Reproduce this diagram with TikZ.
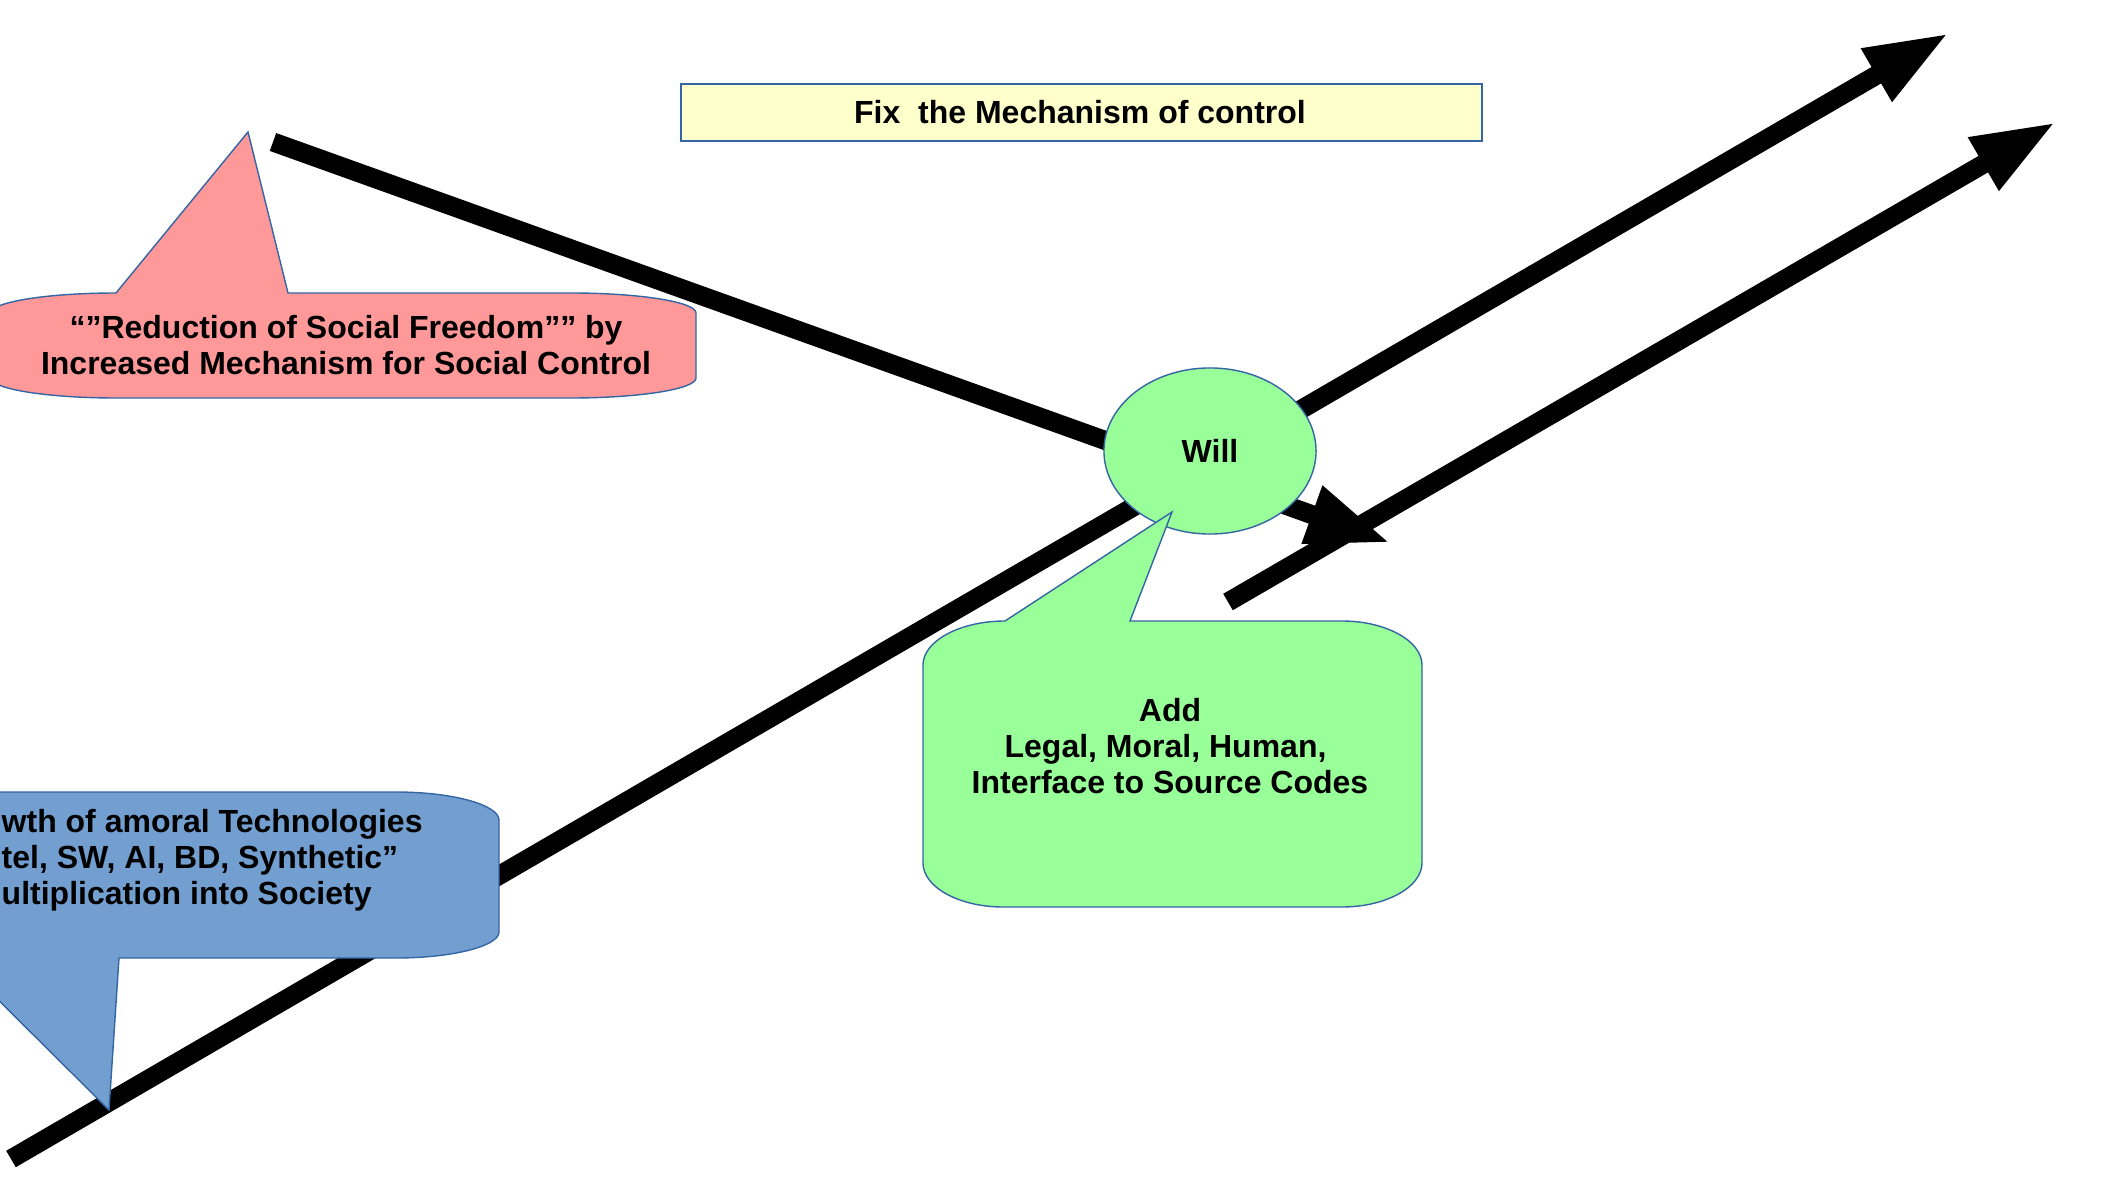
\documentclass[tikz,border=0pt]{standalone}
\usepackage{fontspec}
\setmainfont{Liberation Sans}
\usetikzlibrary{arrows.meta, shapes.geometric}
\definecolor{edgeblue}{HTML}{3465A4}
\definecolor{fixyellow}{HTML}{FFFFCC}
\definecolor{freepink}{HTML}{FF9999}
\definecolor{techblue}{HTML}{729FCF}
\definecolor{willgreen}{HTML}{99FF99}

\begin{document}
\begin{tikzpicture}[x=0.01cm, y=-0.01cm, >={Triangle[length=8.4mm, width=5.6mm]},
  bigarrow/.style={->, line width=1.9mm},
  bubble/.style={draw=edgeblue, line width=0.4pt},
  txt/.style={font=\bfseries\fontsize{9.1}{10.2}\selectfont, align=center, inner sep=0pt}]
\useasboundingbox (0,0) rectangle (2117,1191);
\clip (0,0) rectangle (2117,1191);

% the three big arrows
\coordinate (riseS) at (11,1159);
\coordinate (riseE) at (1949,33);
\coordinate (fallS) at (273,142);
\coordinate (fallE) at (1391,543);
\coordinate (fixS) at (1228,602);
\coordinate (fixE) at (2056,122);
\draw[bigarrow] (riseS) -- (riseE);
\draw[bigarrow] (fallS) -- (fallE);
\draw[bigarrow] (fixS) -- (fixE);

% title box
\draw[bubble, fill=fixyellow] (681,84) rectangle (1482,141);
\node[txt, anchor=base] (fixtext) at (1080,124) {Fix\ \ the Mechanism of control};

% pink callout
\draw[bubble, fill=freepink] (288,293) -- (248,132) -- (116,293)
  .. controls +(-69,0) and +(0,-11) .. (-9,313) -- (-9,378)
  .. controls +(0,11) and +(-69,0) .. (116,398) -- (571,398)
  .. controls +(69,0) and +(0,11) .. (696,378) -- (696,313)
  .. controls +(0,-11) and +(69,0) .. (571,293) -- cycle;
\node[txt] (freetext) at (346,345) {“”Reduction of Social Freedom”” by\\Increased Mechanism for Social Control};

% blue callout
\draw[bubble, fill=techblue] (-200,792) -- (396,792)
  .. controls +(57,0) and +(0,-15) .. (499,820) -- (499,932)
  .. controls +(0,14) and +(57,0) .. (396,958) -- (119,958) -- (109,1110)
  -- (-44,958) -- (-200,958) -- cycle;
\node[txt, align=left, anchor=west] (techtext) at (1,860) {wth of amoral Technologies\\tel, SW, AI, BD, Synthetic”\\ultiplication into Society};

% will
\node[ellipse, bubble, fill=willgreen, minimum width=2.12cm, minimum height=1.66cm, inner sep=0pt, txt] (will) at (1210,451) {Will};

% green callout
\draw[bubble, fill=willgreen] (1130,621) -- (1172,512) -- (1005,621)
  .. controls +(-45,0) and +(0,-24) .. (923,665) -- (923,863)
  .. controls +(0,24) and +(-44,0) .. (1003,907) -- (1342,907)
  .. controls +(44,0) and +(0,24) .. (1422,863) -- (1422,665)
  .. controls +(0,-24) and +(44,0) .. (1342,621) -- cycle;
\node[txt] (addtext) at (1170,746) {Add\\Legal, Moral, Human,\ \null\\Interface to Source Codes};
\end{tikzpicture}
\end{document}
